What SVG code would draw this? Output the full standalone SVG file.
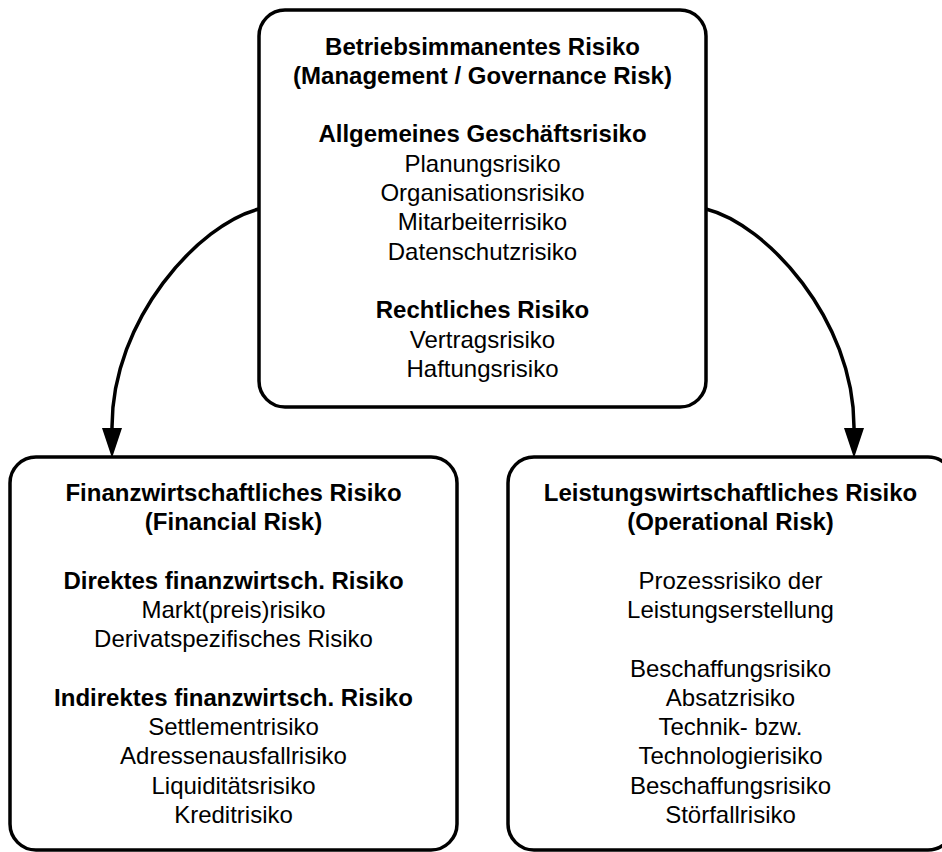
<svg xmlns="http://www.w3.org/2000/svg" width="942" height="852" viewBox="0 0 942 852">
<style>
.box{fill:#fff;stroke:#000;stroke-width:3.5}
.conn{fill:none;stroke:#000;stroke-width:3.5}
text{font-family:"Liberation Sans",Arial,sans-serif;font-size:24px;fill:#000;text-anchor:middle}
.b{font-weight:bold}
</style>
<defs>
<marker id="arrow" markerUnits="userSpaceOnUse" viewBox="0 0 30 20" markerWidth="30" markerHeight="20" refX="14" refY="10" orient="auto">
<path d="M0,0 L30,10 L0,20 z" fill="#000"/>
</marker>
</defs>
<g id="connectors">
<path class="conn" d="M259,209 C199,224 112,319 112,427 L112,442" marker-end="url(#arrow)"/>
<path class="conn" d="M706,209 C766,224 854,319 854,427 L854,442" marker-end="url(#arrow)"/>
</g>
<g id="node-top">
<rect class="box" x="259" y="10" width="447" height="397" rx="26" ry="26"/>
<text x="482.5" y="54.5" class="b">Betriebsimmanentes Risiko</text>
<text x="482.5" y="83.8" class="b">(Management / Governance Risk)</text>
<text x="482.5" y="142.4" class="b">Allgemeines Geschäftsrisiko</text>
<text x="482.5" y="171.7">Planungsrisiko</text>
<text x="482.5" y="201">Organisationsrisiko</text>
<text x="482.5" y="230.3">Mitarbeiterrisiko</text>
<text x="482.5" y="259.6">Datenschutzrisiko</text>
<text x="482.5" y="318.2" class="b">Rechtliches Risiko</text>
<text x="482.5" y="347.5">Vertragsrisiko</text>
<text x="482.5" y="376.8">Haftungsrisiko</text>
</g>
<g id="node-financial">
<rect class="box" x="10" y="457" width="447" height="393" rx="26" ry="26"/>
<text x="233.5" y="500.7" class="b">Finanzwirtschaftliches Risiko</text>
<text x="233.5" y="530" class="b">(Financial Risk)</text>
<text x="233.5" y="588.6" class="b">Direktes finanzwirtsch. Risiko</text>
<text x="233.5" y="617.9">Markt(preis)risiko</text>
<text x="233.5" y="647.2">Derivatspezifisches Risiko</text>
<text x="233.5" y="705.8" class="b">Indirektes finanzwirtsch. Risiko</text>
<text x="233.5" y="735.1">Settlementrisiko</text>
<text x="233.5" y="764.4">Adressenausfallrisiko</text>
<text x="233.5" y="793.7">Liquiditätsrisiko</text>
<text x="233.5" y="823">Kreditrisiko</text>
</g>
<g id="node-operational">
<rect class="box" x="508" y="457" width="446" height="393" rx="26" ry="26"/>
<text x="730.5" y="500.7" class="b">Leistungswirtschaftliches Risiko</text>
<text x="730.5" y="530" class="b">(Operational Risk)</text>
<text x="730.5" y="588.6">Prozessrisiko der</text>
<text x="730.5" y="617.9">Leistungserstellung</text>
<text x="730.5" y="676.5">Beschaffungsrisiko</text>
<text x="730.5" y="705.8">Absatzrisiko</text>
<text x="730.5" y="735.1">Technik- bzw.</text>
<text x="730.5" y="764.4">Technologierisiko</text>
<text x="730.5" y="793.7">Beschaffungsrisiko</text>
<text x="730.5" y="823">Störfallrisiko</text>
</g>
</svg>
